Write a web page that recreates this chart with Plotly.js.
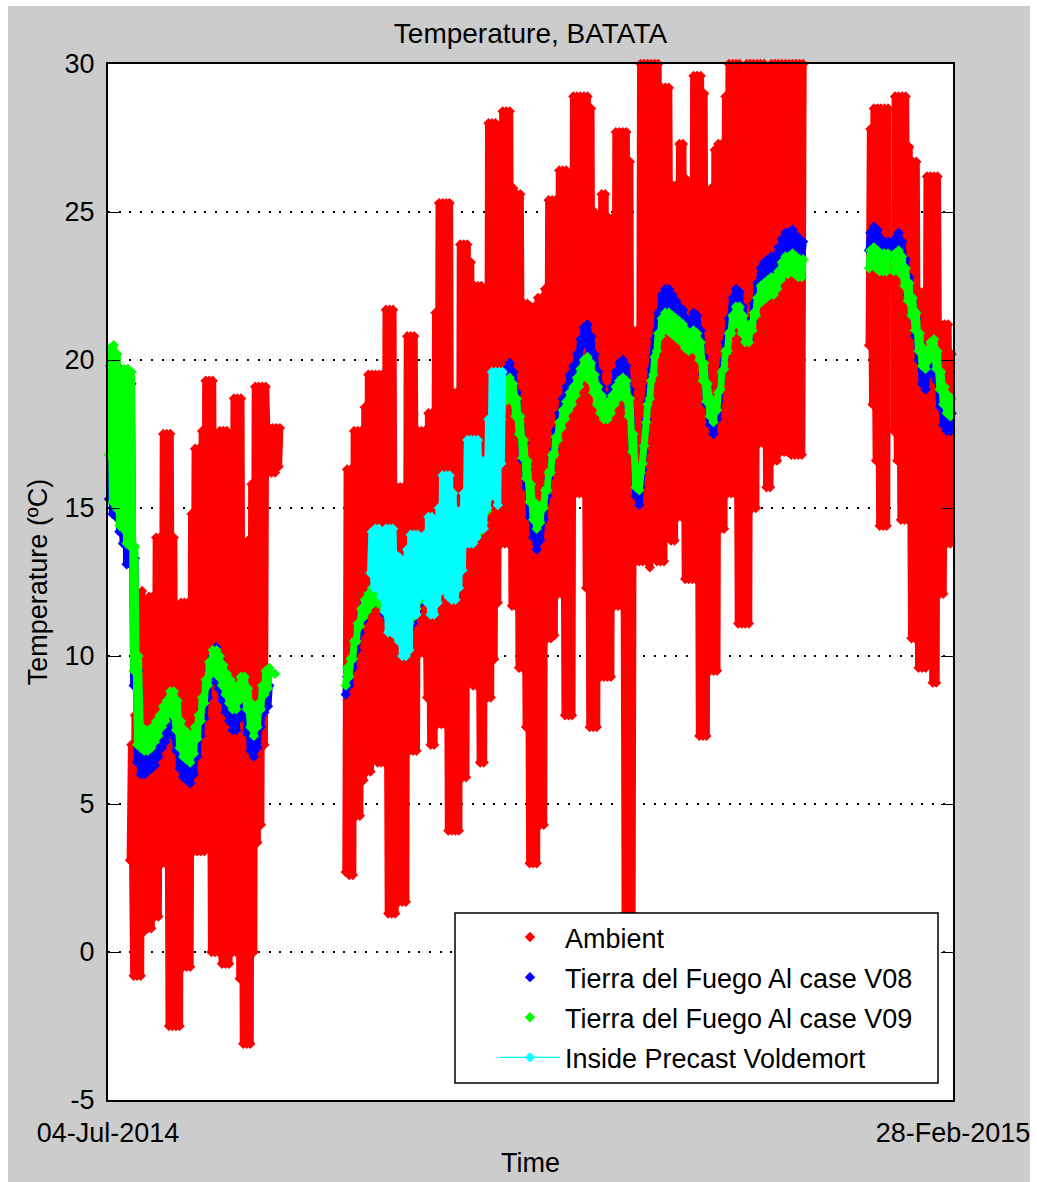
<!DOCTYPE html>
<html>
<head>
<meta charset="utf-8">
<script src="https://cdn.plot.ly/plotly-3.0.1.min.js"></script>
<style>
  html, body { margin: 0; padding: 0; background: #ffffff; }
  #chart { width: 1037px; height: 1182px; }
</style>
</head>
<body>
<div id="chart"></div>
<script>
// Daily logger summaries, one entry per day from 04-Jul-2014 (day 0) to 27-Feb-2015 (day 238).
// Each series keeps the daily low and the daily high; null marks days without readings.
const _ = null;

const startDate = '2014-07-04';
const endDate = '2015-02-28';
const tickLabels = ['04-Jul-2014', '28-Feb-2015'];
const yTickValues = [-5, 0, 5, 10, 15, 20, 25, 30];
const yTickLabels = ['-5', '0', '5', '10', '15', '20', '25', '30'];

const seriesNames = [
  'Ambient',
  'Tierra del Fuego Al case V08',
  'Tierra del Fuego Al case V09',
  'Inside Precast Voldemort'
];

// Ambient air temperature (°C)
const ambientLow = [
  _, _, _, _, _, _, 3.1, -0.8, -0.8, -0.8,
  0.7, 0.8, 0.8, 1.2, 1.2, 3.0, 3.0, -2.5, -2.5, -2.5,
  -2.5, -0.5, -0.5, -0.5, 3.4, 3.4, 3.4, 3.4, 4.5, 0.0,
  0.0, 0.0, -0.4, -0.4, -0.4, 0.0, 0.0, -0.9, -3.1, -3.1,
  -3.1, 0.0, 3.7, 4.3, 7.0, 16.2, 16.2, 16.2, 16.4, _,
  _, _, _, _, _, _, _, _, _, _,
  _, _, _, _, _, _, _, 2.7, 2.6, 2.6,
  4.6, 4.6, 5.8, 6.1, 6.1, 7.3, 6.4, 6.4, 6.4, 1.3,
  1.3, 1.3, 1.7, 1.7, 1.7, 6.8, 6.8, 6.8, 10.1, 10.1,
  8.6, 7.0, 7.0, 7.7, 7.7, 7.7, 4.1, 4.1, 4.1, 4.1,
  5.9, 5.9, 9.7, 9.0, 9.0, 6.4, 6.4, 8.6, 8.6, 9.9,
  11.8, 13.8, 13.8, 13.8, 11.7, 11.7, 9.6, 9.6, 7.6, 3.0,
  3.0, 3.0, 4.3, 4.3, 10.6, 10.6, 10.7, 12.1, 12.1, 8.0,
  8.0, 8.0, 15.5, 15.5, 15.5, 12.3, 7.6, 7.6, 7.6, 9.3,
  9.3, 9.3, 9.3, 11.7, 11.7, 11.7, 1.3, 1.3, 1.3, 13.2,
  13.2, 13.2, 13.2, 13.0, 13.4, 13.2, 13.2, 13.2, 14.7, 13.9,
  13.9, 14.7, 14.7, 12.6, 12.6, 12.6, 12.6, 7.3, 7.3, 7.3,
  9.5, 9.5, 9.5, 14.3, 14.3, 15.5, 15.5, 15.5, 11.1, 11.1,
  11.1, 11.1, 15.0, 15.0, 17.2, 17.2, 15.7, 15.7, 16.6, 16.6,
  16.9, 16.9, 16.9, 16.8, 16.8, 16.8, 16.8, _, _, _,
  _, _, _, _, _, _, _, _, _, _,
  _, _, _, _, _, 20.5, 18.5, 16.6, 14.4, 14.4,
  14.4, _, 17.6, 16.6, 14.6, 14.6, 14.6, 10.6, 10.6, 9.6,
  9.6, 9.6, 12.5, 9.1, 9.1, 12.1, 12.1, 13.8, 13.8
];
const ambientHigh = [
  _, _, _, _, _, _, 7.0, 8.0, 10.0, 12.2,
  9.0, 12.0, 12.0, 14.0, 14.0, 17.5, 17.5, 17.5, 14.0, 8.5,
  11.8, 11.8, 11.8, 14.8, 17.0, 17.0, 17.6, 19.3, 19.3, 19.3,
  14.5, 17.6, 17.6, 17.6, 12.7, 18.7, 18.7, 18.7, 12.1, 13.9,
  15.8, 19.1, 19.1, 19.1, 19.1, 17.7, 17.7, 17.7, 17.7, _,
  _, _, _, _, _, _, _, _, _, _,
  _, _, _, _, _, _, _, 16.3, 16.3, 17.6,
  17.6, 17.6, 18.4, 19.5, 19.5, 19.5, 19.5, 19.5, 21.7, 21.7,
  21.7, 15.7, 15.7, 15.7, 20.8, 20.8, 20.8, 17.6, 17.6, 17.6,
  18.2, 18.2, 21.6, 25.3, 25.3, 25.3, 25.3, 18.9, 18.9, 23.9,
  23.9, 23.9, 23.3, 22.5, 22.5, 22.5, 20.7, 28.0, 28.0, 28.0,
  27.9, 28.4, 28.4, 28.4, 25.8, 25.6, 25.6, 21.9, 21.9, 21.8,
  21.8, 22.1, 22.1, 22.4, 25.4, 25.4, 25.4, 26.4, 26.4, 26.4,
  25.0, 28.9, 28.9, 28.9, 28.9, 28.9, 28.5, 25.0, 22.5, 25.6,
  25.6, 24.8, 24.8, 27.7, 27.7, 27.7, 27.7, 26.7, 21.0, 21.0,
  30.0, 30.0, 30.0, 30.0, 30.0, 30.0, 29.2, 29.2, 29.2, 25.9,
  25.9, 27.3, 27.3, 26.1, 23.9, 29.6, 29.6, 29.6, 29.0, 25.6,
  25.8, 27.1, 27.3, 27.3, 28.9, 30.0, 30.0, 30.0, 30.0, 25.8,
  30.0, 30.0, 30.0, 30.0, 30.0, 30.0, 28.7, 30.0, 30.0, 30.0,
  30.0, 30.0, 30.0, 30.0, 30.0, 30.0, 30.0, _, _, _,
  _, _, _, _, _, _, _, _, _, _,
  _, _, _, _, _, 27.8, 28.5, 28.5, 28.5, 28.5,
  28.5, _, 28.9, 28.9, 28.9, 28.9, 27.2, 26.7, 26.7, 22.3,
  22.3, 26.2, 26.2, 26.2, 26.2, 21.2, 21.2, 21.2, 20.2
];

// Tierra del Fuego Al case V08 (°C)
const v08Low = [
  15.3, 14.8, 14.7, 14.2, 13.8, 13.1, 13.1, 9.0, 6.4, 6.0,
  6.0, 6.1, 6.2, 6.3, 6.6, 6.9, 7.1, 7.4, 7.3, 6.8,
  6.2, 5.9, 5.8, 5.7, 6.0, 6.6, 7.3, 7.9, 8.6, 9.1,
  9.3, 8.9, 8.5, 8.1, 7.8, 7.5, 7.5, 7.9, 8.0, 7.4,
  6.8, 6.6, 6.9, 7.6, 8.1, 8.3, _, _, _, _,
  _, _, _, _, _, _, _, _, _, _,
  _, _, _, _, _, _, _, 8.7, 9.0, 9.6,
  10.2, 10.8, 11.2, 11.5, 11.7, 11.8, 11.8, 11.7, 11.4, 11.2,
  11.0, 10.9, 10.8, 10.8, 10.8, 10.9, 11.1, 11.5, 11.8, 12.2,
  12.4, 12.6, 12.8, 13.0, 13.1, 13.1, 13.2, 13.3, 13.4, 13.5,
  13.7, 13.8, 13.9, 14.0, 14.1, 14.2, 14.6, 15.1, 15.9, 16.7,
  17.7, 18.6, 19.1, 19.3, 19.0, 18.3, 17.5, 16.6, 15.7, 14.7,
  14.0, 13.6, 13.9, 14.6, 15.4, 16.2, 17.0, 17.6, 18.1, 18.5,
  18.9, 19.2, 19.6, 20.1, 20.5, 20.6, 20.2, 19.6, 19.0, 18.5,
  18.2, 18.2, 18.5, 19.0, 19.3, 19.4, 19.2, 18.4, 16.9, 15.4,
  15.1, 16.3, 18.0, 19.1, 20.1, 21.0, 21.6, 21.8, 21.8, 21.6,
  21.4, 21.2, 21.1, 20.8, 20.7, 21.0, 20.9, 20.4, 19.5, 18.5,
  17.8, 17.5, 18.0, 19.0, 20.0, 20.8, 21.5, 21.8, 21.7, 21.2,
  20.7, 20.7, 21.3, 22.0, 22.5, 22.7, 22.8, 22.9, 22.9, 23.2,
  23.5, 23.7, 23.7, 23.8, 23.6, 23.5, 23.4, _, _, _,
  _, _, _, _, _, _, _, _, _, _,
  _, _, _, _, _, 23.7, 23.9, 23.8, 23.5, 23.4,
  23.4, _, 23.5, 23.7, 23.4, 22.8, 22.2, 21.5, 20.8, 20.0,
  19.2, 19.0, 19.5, 19.7, 19.3, 18.4, 17.8, 17.6, 17.6
];
const v08High = [
  19.8, 20.0, 19.8, 19.2, 19.3, 19.3, 19.2, 13.3, 9.5, 7.0,
  7.0, 7.0, 7.1, 7.3, 7.5, 7.8, 8.0, 8.3, 8.3, 7.9,
  7.2, 6.9, 6.8, 6.7, 7.0, 7.5, 8.2, 8.8, 9.5, 10.0,
  10.3, 9.9, 9.5, 9.1, 8.8, 8.5, 8.5, 8.9, 9.0, 8.4,
  7.8, 7.5, 7.9, 8.6, 9.1, 9.0, _, _, _, _,
  _, _, _, _, _, _, _, _, _, _,
  _, _, _, _, _, _, _, 9.3, 9.6, 10.2,
  10.8, 11.4, 11.8, 12.1, 12.3, 12.4, 12.4, 12.3, 12.0, 11.8,
  11.6, 11.5, 11.4, 11.4, 11.4, 11.5, 11.7, 12.1, 12.4, 12.8,
  13.0, 13.2, 13.4, 13.6, 13.7, 13.7, 13.8, 13.9, 14.0, 14.1,
  14.3, 14.4, 14.5, 14.6, 14.7, 14.8, 15.2, 15.7, 16.5, 17.3,
  18.3, 19.2, 19.7, 19.9, 19.6, 18.9, 18.1, 17.2, 16.3, 15.3,
  14.6, 14.2, 14.5, 15.2, 16.0, 16.8, 17.6, 18.2, 18.7, 19.1,
  19.5, 19.8, 20.2, 20.7, 21.1, 21.2, 20.8, 20.2, 19.6, 19.1,
  18.8, 18.8, 19.1, 19.6, 19.9, 20.0, 19.8, 19.0, 17.5, 16.0,
  15.7, 16.9, 18.6, 19.7, 20.7, 21.6, 22.2, 22.4, 22.4, 22.2,
  22.0, 21.8, 21.7, 21.4, 21.3, 21.6, 21.5, 21.0, 20.1, 19.1,
  18.4, 18.1, 18.6, 19.6, 20.6, 21.4, 22.1, 22.4, 22.3, 21.8,
  21.3, 21.3, 21.9, 22.6, 23.1, 23.3, 23.4, 23.5, 23.5, 23.8,
  24.1, 24.3, 24.3, 24.4, 24.2, 24.1, 24.0, _, _, _,
  _, _, _, _, _, _, _, _, _, _,
  _, _, _, _, _, 24.3, 24.5, 24.4, 24.1, 24.0,
  24.0, _, 24.1, 24.3, 24.0, 23.4, 22.8, 22.1, 21.4, 20.6,
  19.8, 19.6, 20.1, 20.3, 19.9, 19.0, 18.4, 18.2, 18.2
];

// Tierra del Fuego Al case V09 (°C)
const v09Low = [
  16.8, 15.2, 15.0, 14.4, 14.3, 13.8, 13.7, 9.5, 7.0, 6.9,
  6.8, 6.8, 6.9, 7.1, 7.3, 7.6, 7.8, 8.1, 8.0, 7.5,
  6.9, 6.6, 6.5, 6.4, 6.7, 7.2, 7.8, 8.4, 9.0, 9.4,
  9.5, 9.3, 9.0, 8.7, 8.4, 8.2, 8.2, 8.5, 8.6, 8.2,
  7.6, 7.3, 7.6, 8.2, 8.7, 8.9, _, 9.4, _, _,
  _, _, _, _, _, _, _, _, _, _,
  _, _, _, _, _, _, _, 9.0, 9.3, 9.9,
  10.5, 11.0, 11.3, 11.5, 11.7, 11.8, 11.8, 11.7, 11.5, 11.3,
  11.2, 11.1, 11.0, 11.0, 11.0, 11.1, 11.3, 11.6, 11.9, 12.2,
  12.4, 12.6, 12.8, 13.0, 13.1, 13.2, 13.3, 13.4, 13.5, 13.6,
  13.7, 13.8, 13.9, 14.0, 14.1, 14.2, 14.5, 14.9, 15.6, 16.3,
  17.2, 18.0, 18.6, 18.8, 18.6, 18.1, 17.5, 16.7, 16.0, 15.2,
  14.6, 14.3, 14.5, 15.0, 15.6, 16.2, 16.8, 17.3, 17.7, 18.0,
  18.3, 18.5, 18.8, 19.1, 19.4, 19.5, 19.3, 18.9, 18.5, 18.2,
  18.0, 18.0, 18.2, 18.5, 18.7, 18.8, 18.7, 18.1, 16.9, 15.7,
  15.6, 16.5, 17.9, 18.7, 19.5, 20.3, 20.8, 21.0, 21.0, 20.9,
  20.8, 20.7, 20.6, 20.4, 20.3, 20.4, 20.3, 20.0, 19.3, 18.6,
  18.1, 17.9, 18.3, 19.0, 19.7, 20.3, 20.9, 21.2, 21.2, 20.9,
  20.6, 20.6, 21.0, 21.5, 21.9, 22.0, 22.1, 22.2, 22.2, 22.4,
  22.7, 22.9, 22.9, 23.0, 22.9, 22.8, 22.8, _, _, _,
  _, _, _, _, _, _, _, _, _, _,
  _, _, _, _, _, 23.1, 23.2, 23.1, 23.0, 23.0,
  23.0, _, 23.0, 23.1, 22.9, 22.5, 22.0, 21.5, 21.0, 20.3,
  19.8, 19.7, 20.0, 20.1, 19.7, 19.0, 18.5, 18.2, 18.1
];
const v09High = [
  20.4, 20.5, 20.2, 19.5, 19.7, 19.7, 19.6, 13.7, 10.0, 7.6,
  7.5, 7.5, 7.6, 7.8, 8.0, 8.3, 8.5, 8.8, 8.8, 8.5,
  7.8, 7.5, 7.4, 7.3, 7.6, 8.0, 8.6, 9.2, 9.8, 10.2,
  10.2, 10.0, 9.7, 9.4, 9.2, 9.0, 9.0, 9.3, 9.3, 8.9,
  8.4, 8.1, 8.4, 9.0, 9.5, 9.6, _, _, _, _,
  _, _, _, _, _, _, _, _, _, _,
  _, _, _, _, _, _, _, 9.6, 9.9, 10.5,
  11.1, 11.6, 11.9, 12.1, 12.3, 12.4, 12.4, 12.3, 12.1, 11.9,
  11.8, 11.7, 11.6, 11.6, 11.6, 11.7, 11.9, 12.2, 12.5, 12.8,
  13.0, 13.2, 13.4, 13.6, 13.7, 13.8, 13.9, 14.0, 14.1, 14.2,
  14.3, 14.4, 14.5, 14.6, 14.7, 14.8, 15.1, 15.5, 16.2, 16.9,
  17.8, 18.6, 19.2, 19.4, 19.2, 18.7, 18.1, 17.3, 16.6, 15.8,
  15.2, 14.9, 15.1, 15.6, 16.2, 16.8, 17.4, 17.9, 18.3, 18.6,
  18.9, 19.1, 19.4, 19.7, 20.0, 20.1, 19.9, 19.5, 19.1, 18.8,
  18.6, 18.6, 18.8, 19.1, 19.3, 19.4, 19.3, 18.7, 17.5, 16.3,
  16.2, 17.1, 18.5, 19.3, 20.1, 20.9, 21.4, 21.6, 21.6, 21.5,
  21.4, 21.3, 21.2, 21.0, 20.9, 21.0, 20.9, 20.6, 19.9, 19.2,
  18.7, 18.5, 18.9, 19.6, 20.3, 20.9, 21.5, 21.8, 21.8, 21.5,
  21.2, 21.2, 21.6, 22.1, 22.5, 22.6, 22.7, 22.8, 22.8, 23.0,
  23.3, 23.5, 23.5, 23.6, 23.5, 23.4, 23.4, _, _, _,
  _, _, _, _, _, _, _, _, _, _,
  _, _, _, _, _, 23.7, 23.8, 23.7, 23.6, 23.6,
  23.6, _, 23.6, 23.7, 23.5, 23.1, 22.6, 22.1, 21.6, 20.9,
  20.4, 20.3, 20.6, 20.7, 20.3, 19.6, 19.1, 18.8, 18.7
];

// Inside Precast Voldemort (°C), logged from day 74 to day 111
const insideLow = [
  _, _, _, _, _, _, _, _, _, _,
  _, _, _, _, _, _, _, _, _, _,
  _, _, _, _, _, _, _, _, _, _,
  _, _, _, _, _, _, _, _, _, _,
  _, _, _, _, _, _, _, _, _, _,
  _, _, _, _, _, _, _, _, _, _,
  _, _, _, _, _, _, _, _, _, _,
  _, _, _, _, 12.8, 12.3, 12.3, 12.0, 11.5, 10.8,
  10.8, 10.7, 10.5, 10.0, 10.0, 10.2, 11.4, 11.4, 12.0, 12.3,
  11.8, 11.4, 11.4, 11.8, 12.2, 12.2, 12.0, 11.9, 11.9, 12.3,
  12.9, 13.8, 13.8, 13.8, 14.0, 14.3, 14.3, 15.0, 15.4, 15.4,
  15.1, 16.5
];
const insideHigh = [
  _, _, _, _, _, _, _, _, _, _,
  _, _, _, _, _, _, _, _, _, _,
  _, _, _, _, _, _, _, _, _, _,
  _, _, _, _, _, _, _, _, _, _,
  _, _, _, _, _, _, _, _, _, _,
  _, _, _, _, _, _, _, _, _, _,
  _, _, _, _, _, _, _, _, _, _,
  _, _, _, _, 14.2, 14.3, 14.3, 13.6, 14.3, 14.3,
  14.3, 13.4, 13.3, 13.2, 13.6, 14.1, 14.1, 14.1, 14.0, 14.1,
  14.7, 14.7, 14.3, 15.0, 16.1, 16.1, 16.1, 15.5, 14.9, 14.9,
  15.5, 17.3, 17.3, 17.3, 17.3, 16.6, 16.6, 18.0, 19.6, 19.6,
  19.6, 19.6
];

const colors = ['#ff0000', '#0000ff', '#00ff00', '#00ffff'];

// Day index -> timestamp string at the given hour (low reading early morning, high reading afternoon)
function stamp(day, hour) {
  const t = Date.UTC(2014, 6, 4) + day * 86400000 + hour * 3600000;
  return new Date(t).toISOString().slice(0, 19).replace('T', ' ');
}

// Interleave daily lows and highs into one time-ordered sequence
function dailyTrace(low, high) {
  const x = [], y = [];
  for (let d = 0; d < low.length; d++) {
    x.push(stamp(d, 6));  y.push(low[d]);
    x.push(stamp(d, 15)); y.push(high[d]);
  }
  return { x, y };
}

const sets = [
  dailyTrace(ambientLow, ambientHigh),
  dailyTrace(v08Low, v08High),
  dailyTrace(v09Low, v09High),
  dailyTrace(insideLow, insideHigh)
];

const traces = [];
sets.forEach((s, i) => {
  // dense body of the logged readings
  traces.push({
    type: 'scatter', mode: 'lines', x: s.x, y: s.y,
    line: { color: colors[i], width: 7 },
    connectgaps: false, cliponaxis: false,
    showlegend: false, legendgroup: 'g' + i, hoverinfo: 'skip'
  });
  // diamond markers on every reading (legend entry)
  traces.push({
    type: 'scatter', mode: i === 3 ? 'lines+markers' : 'markers',
    x: s.x, y: s.y, name: seriesNames[i],
    marker: { symbol: 'diamond', size: 8, color: colors[i] },
    line: { color: colors[i], width: 1.2 },
    connectgaps: false, cliponaxis: false,
    legendgroup: 'g' + i
  });
});

// plot area: x 108..953 px, y 64..1100 px
const px = v => (v - 108) / 845;
const py = v => (1100 - v) / 1036;

const layout = {
  width: 1037, height: 1182,
  margin: { l: 108, r: 84, t: 64, b: 82, pad: 0 },
  paper_bgcolor: '#cccccc',
  plot_bgcolor: '#ffffff',
  font: { family: 'Liberation Sans, Arial, sans-serif', size: 27, color: '#000000' },
  title: {
    text: 'Temperature, BATATA',
    font: { size: 28, color: '#000000' },
    x: 0.5, xref: 'paper', xanchor: 'center',
    y: 1 - 33 / 1182, yref: 'container', yanchor: 'middle'
  },
  xaxis: {
    type: 'date',
    range: [startDate, endDate],
    tickmode: 'array',
    tickvals: [startDate, endDate],
    ticktext: tickLabels,
    ticks: 'inside', ticklen: 12, tickwidth: 1, tickcolor: '#000000',
    ticklabelstandoff: 8,
    showline: true, linecolor: '#000000', linewidth: 2, mirror: 'ticks',
    showgrid: false, zeroline: false,
    title: { text: 'Time', font: { size: 27 }, standoff: 6 }
  },
  yaxis: {
    range: [-5, 30],
    tickmode: 'array', tickvals: yTickValues, ticktext: yTickLabels,
    ticks: 'inside', ticklen: 12, tickwidth: 1, tickcolor: '#000000',
    ticklabelstandoff: 6,
    showline: true, linecolor: '#000000', linewidth: 2, mirror: 'ticks',
    showgrid: true, gridcolor: '#000000', gridwidth: 1.5, griddash: '2px,8.7px',
    zeroline: false,
    title: { text: 'Temperature (ºC)', font: { size: 27 }, standoff: 9 }
  },
  showlegend: true,
  legend: {
    x: px(495), xanchor: 'left',
    y: py(913), yanchor: 'top',
    bgcolor: 'rgba(0,0,0,0)', borderwidth: 0,
    font: { size: 27 },
    itemwidth: 60,
    traceorder: 'grouped', tracegroupgap: 2
  },
  shapes: [
    // legend frame
    { type: 'rect', xref: 'paper', yref: 'paper', layer: 'above',
      x0: px(455), x1: px(938), y0: py(1083), y1: py(913),
      fillcolor: '#ffffff', line: { color: '#000000', width: 1.5 } },
    // white margins around the grey figure area
    { type: 'rect', xref: 'paper', yref: 'paper', layer: 'above',
      x0: px(-5), x1: px(8), y0: py(1190), y1: py(-5),
      fillcolor: '#ffffff', line: { width: 0 } },
    { type: 'rect', xref: 'paper', yref: 'paper', layer: 'above',
      x0: px(-5), x1: px(1045), y0: py(6), y1: py(-5),
      fillcolor: '#ffffff', line: { width: 0 } },
    { type: 'rect', xref: 'paper', yref: 'paper', layer: 'above',
      x0: px(1030), x1: px(1045), y0: py(1190), y1: py(-5),
      fillcolor: '#ffffff', line: { width: 0 } }
  ]
};

Plotly.newPlot('chart', traces, layout, { staticPlot: true, displayModeBar: false });
</script>
</body>
</html>
